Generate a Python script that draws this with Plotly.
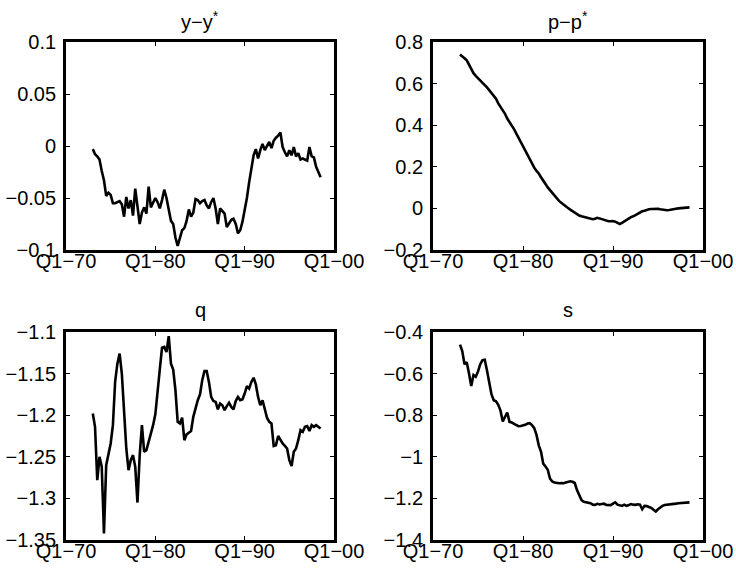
import numpy as np
import plotly.graph_objects as go

# Quarterly observations, 1973Q1 - 1998Q3 (one row per year)
START_YEAR = 1973

y_gap = [
    -0.003, -0.008, -0.010, -0.013,
    -0.024, -0.033, -0.048, -0.045,
    -0.047, -0.055, -0.055, -0.054,
    -0.053, -0.056, -0.068, -0.049,
    -0.060, -0.052, -0.067, -0.041,
    -0.060, -0.075, -0.064, -0.059,
    -0.065, -0.039, -0.059, -0.054,
    -0.050, -0.054, -0.060, -0.052,
    -0.042, -0.050, -0.060, -0.072,
    -0.075, -0.088, -0.096, -0.087,
    -0.081, -0.079, -0.072, -0.061,
    -0.068, -0.064, -0.051, -0.052,
    -0.055, -0.053, -0.052, -0.057,
    -0.060, -0.054, -0.050, -0.060,
    -0.075, -0.060, -0.063, -0.065,
    -0.078, -0.074, -0.071, -0.070,
    -0.075, -0.084, -0.081, -0.073,
    -0.062, -0.050, -0.035, -0.020,
    -0.009, -0.003, -0.012, -0.004,
    0.002, -0.004, 0.000, 0.004,
    -0.002, 0.005, 0.008, 0.010,
    0.013, -0.001, -0.006, -0.010,
    -0.004, -0.009, -0.001, -0.010,
    -0.007, -0.013, -0.012, -0.013,
    -0.014, -0.001, -0.010, -0.011,
    -0.020, -0.025, -0.030,
]

p_gap = [
    0.740, 0.733, 0.722, 0.712,
    0.690, 0.668, 0.650, 0.637,
    0.627, 0.617, 0.605, 0.593,
    0.582, 0.569, 0.552, 0.538,
    0.527, 0.505, 0.488, 0.474,
    0.455, 0.432, 0.412, 0.398,
    0.381, 0.360, 0.338, 0.318,
    0.298, 0.277, 0.260, 0.236,
    0.216, 0.196, 0.180, 0.168,
    0.150, 0.130, 0.117, 0.101,
    0.088, 0.074, 0.058, 0.049,
    0.036, 0.027, 0.020, 0.012,
    0.002, -0.006, -0.014, -0.022,
    -0.028, -0.034, -0.038, -0.041,
    -0.043, -0.046, -0.048, -0.052,
    -0.050, -0.045, -0.048, -0.052,
    -0.056, -0.060, -0.062, -0.062,
    -0.061, -0.064, -0.068, -0.075,
    -0.070, -0.062, -0.055, -0.046,
    -0.042, -0.038, -0.032, -0.026,
    -0.018, -0.014, -0.011, -0.007,
    -0.004, -0.003, -0.002, -0.003,
    -0.002, -0.004, -0.006, -0.008,
    -0.009, -0.008, -0.005, -0.003,
    -0.002, 0.000, 0.001, 0.002,
    0.002, 0.004, 0.005,
]

q = [
    -1.198, -1.214, -1.278, -1.250,
    -1.262, -1.342, -1.260, -1.248,
    -1.234, -1.212, -1.160, -1.138,
    -1.126, -1.150, -1.190, -1.240,
    -1.266, -1.254, -1.248, -1.262,
    -1.305, -1.248, -1.212, -1.244,
    -1.242, -1.233, -1.224, -1.212,
    -1.199, -1.175, -1.145, -1.119,
    -1.118, -1.124, -1.105, -1.138,
    -1.145, -1.170, -1.208, -1.210,
    -1.203, -1.230, -1.223, -1.221,
    -1.219, -1.202, -1.190, -1.182,
    -1.175, -1.158, -1.147, -1.147,
    -1.160, -1.178, -1.183, -1.184,
    -1.193, -1.186, -1.188, -1.194,
    -1.189, -1.185, -1.190, -1.193,
    -1.183, -1.178, -1.182, -1.181,
    -1.174, -1.165, -1.168, -1.160,
    -1.155, -1.163, -1.178, -1.188,
    -1.182, -1.192, -1.203, -1.208,
    -1.210, -1.237, -1.236, -1.225,
    -1.230, -1.234, -1.237, -1.240,
    -1.254, -1.261, -1.244, -1.240,
    -1.230, -1.218, -1.220, -1.214,
    -1.213, -1.219, -1.212, -1.214,
    -1.212, -1.214, -1.216,
]

s = [
    -0.461, -0.492, -0.555, -0.545,
    -0.600, -0.660, -0.607, -0.615,
    -0.590, -0.555, -0.535, -0.533,
    -0.585, -0.650, -0.700, -0.728,
    -0.733, -0.750, -0.778, -0.830,
    -0.805, -0.787, -0.832, -0.835,
    -0.842, -0.847, -0.853, -0.852,
    -0.850, -0.846, -0.840, -0.838,
    -0.848, -0.862, -0.895, -0.945,
    -0.975, -1.033, -1.047, -1.062,
    -1.105, -1.119, -1.124, -1.127,
    -1.127, -1.126, -1.127, -1.124,
    -1.121, -1.118, -1.120, -1.126,
    -1.160, -1.188, -1.208, -1.216,
    -1.219, -1.220, -1.223, -1.230,
    -1.231, -1.226, -1.229, -1.227,
    -1.225, -1.231, -1.230, -1.232,
    -1.225, -1.219, -1.230, -1.234,
    -1.236, -1.230, -1.236, -1.232,
    -1.227, -1.230, -1.231, -1.228,
    -1.230, -1.252, -1.236, -1.237,
    -1.240, -1.246, -1.255, -1.263,
    -1.252, -1.242, -1.236, -1.232,
    -1.231, -1.231, -1.229, -1.227,
    -1.225, -1.223, -1.222, -1.220,
    -1.220, -1.219, -1.219,
]

x_tick_vals = [1970, 1980, 1990, 2000]
x_tick_text = ["Q1\u221270", "Q1\u221280", "Q1\u221290", "Q1\u221200"]

panels = [
    dict(title="y\u2212y<sup>*</sup>", data=y_gap, yr=[-0.1, 0.1],
         yt=[-0.1, -0.05, 0, 0.05, 0.1],
         ytt=["\u22120.1", "\u22120.05", "0", "0.05", "0.1"]),
    dict(title="p\u2212p<sup>*</sup>", data=p_gap, yr=[-0.2, 0.8],
         yt=[-0.2, 0, 0.2, 0.4, 0.6, 0.8],
         ytt=["\u22120.2", "0", "0.2", "0.4", "0.6", "0.8"]),
    dict(title="q", data=q, yr=[-1.35, -1.1],
         yt=[-1.35, -1.3, -1.25, -1.2, -1.15, -1.1],
         ytt=["\u22121.35", "\u22121.3", "\u22121.25", "\u22121.2", "\u22121.15", "\u22121.1"]),
    dict(title="s", data=s, yr=[-1.4, -0.4],
         yt=[-1.4, -1.2, -1, -0.8, -0.6, -0.4],
         ytt=["\u22121.4", "\u22121.2", "\u22121", "\u22120.8", "\u22120.6", "\u22120.4"]),
]

W, H = 736, 573
# panel boxes in pixels: (left, right, top, bottom)
boxes = [(66, 334, 42, 250), (433, 703, 42, 250),
         (66, 334, 332, 540), (433, 703, 332, 540)]

FONT = "Liberation Sans, Arial, Helvetica, sans-serif"
FS = 20
fig = go.Figure()
layout = dict(
    width=W, height=H, margin=dict(l=0, r=0, t=0, b=0, autoexpand=False),
    paper_bgcolor="white", plot_bgcolor="white", showlegend=False,
    font=dict(family=FONT, size=FS, color="black"),
    annotations=[],
)

for i, (p, (l, r, t, b)) in enumerate(zip(panels, boxes)):
    n = len(p["data"])
    t_axis = START_YEAR + np.arange(n) / 4.0
    k = "" if i == 0 else str(i + 1)
    fig.add_trace(go.Scatter(x=t_axis, y=p["data"], mode="lines",
                             line=dict(color="black", width=2.6),
                             xaxis="x" + k, yaxis="y" + k,
                             hoverinfo="skip"))
    common = dict(showline=True, linecolor="black", linewidth=2.8,
                  mirror="ticks", ticks="inside", ticklen=4, tickwidth=1,
                  tickcolor="black", showgrid=False, zeroline=False,
                  fixedrange=True, automargin=False,
                  tickfont=dict(family=FONT, size=FS, color="black"))
    layout["xaxis" + k] = dict(domain=[l / W, r / W], range=[1970, 2000],
                               tickvals=x_tick_vals, ticktext=x_tick_text,
                               ticklabelstandoff=-9,
                               anchor="y" + k, **common)
    layout["yaxis" + k] = dict(domain=[1 - b / H, 1 - t / H], range=p["yr"],
                               tickvals=p["yt"], ticktext=p["ytt"],
                               ticklabelstandoff=3,
                               anchor="x" + k, **common)
    layout["annotations"].append(dict(
        text=p["title"], x=(l + r) / 2 / W, y=1 - (t - 22) / H,
        xref="paper", yref="paper", xanchor="center", yanchor="middle",
        showarrow=False, font=dict(size=FS)))

fig.update_layout(**layout)
fig.write_html("out.html")
